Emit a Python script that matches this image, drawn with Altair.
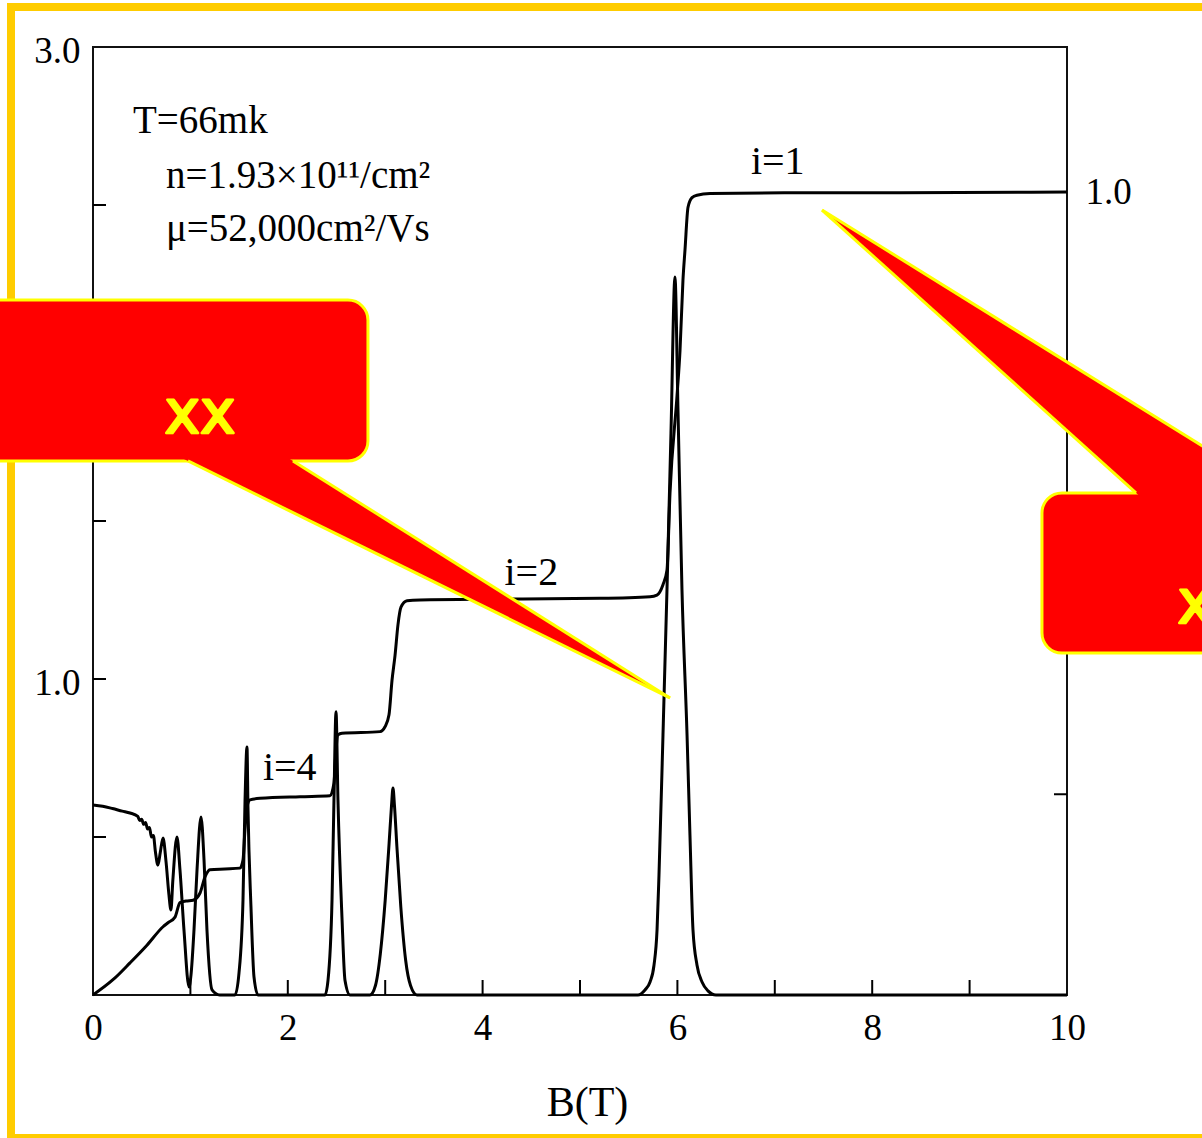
import altair as alt
import pandas as pd

# ---------------- data ----------------
# longitudinal resistance (left scale)
B_xx = [0.00, 0.10, 0.20, 0.30, 0.38, 0.46, 0.48, 0.50, 0.52, 0.54, 0.56, 0.58, 0.60, 0.62, 0.64,
        0.667, 0.69, 0.719, 0.75, 0.78, 0.80, 0.82, 0.862, 0.893, 0.934, 0.986, 1.006, 1.037, 1.068,
        1.109, 1.14, 1.17, 1.222,
        1.30, 1.458, 1.499, 1.540, 1.561, 1.581, 1.591, 1.622, 1.653, 1.694, 1.77,
        2.33, 2.382, 2.413, 2.454, 2.474, 2.495, 2.515, 2.556, 2.587, 2.639, 2.70,
        2.844, 2.90, 2.95, 3.00, 3.04, 3.065, 3.080, 3.095, 3.12, 3.16, 3.21, 3.26, 3.326,
        5.595, 5.667, 5.719, 5.760, 5.791, 5.811, 5.852, 5.893, 5.934, 5.975, 6.006, 6.047, 6.099,
        6.129, 6.160, 6.201, 6.253, 6.314, 6.396, 10.0]
R_xx = [0.601, 0.597, 0.590, 0.582, 0.576, 0.565, 0.552, 0.556, 0.540, 0.546, 0.525, 0.530, 0.500,
        0.505, 0.455, 0.411, 0.450, 0.497, 0.421, 0.316, 0.269, 0.364, 0.500, 0.396, 0.206, 0.025,
        0.063, 0.206, 0.396, 0.563, 0.427, 0.206, 0.016,
        0.0, 0.0, 0.070, 0.301, 0.617, 0.785, 0.595, 0.278, 0.057, 0.0, 0.0,
        0.0, 0.0, 0.047, 0.301, 0.617, 0.896, 0.617, 0.247, 0.047, 0.0, 0.0,
        0.0, 0.03, 0.13, 0.30, 0.48, 0.60, 0.655, 0.60, 0.47, 0.28, 0.11, 0.03, 0.0,
        0.0, 0.016, 0.041, 0.095, 0.206, 0.380, 0.823, 1.282, 1.778, 2.272, 1.851, 1.282, 0.823,
        0.506, 0.206, 0.095, 0.041, 0.013, 0.0, 0.0]

# Hall resistance (right scale, h/e^2 units)
B_xy = [0.0, 0.205, 0.38, 0.554, 0.719, 0.77, 0.842, 0.893, 0.955, 1.027, 1.099, 1.15, 1.20, 1.355,
        1.509, 1.54, 1.56, 1.581, 1.612, 1.715, 2.125, 2.433, 2.474, 2.495, 2.515, 2.556, 2.947,
        2.998, 3.039, 3.07, 3.101, 3.131, 3.162, 3.224, 3.357, 4.179, 5.205, 5.719, 5.79, 5.852,
        5.893, 5.924, 5.996, 6.027, 6.057, 6.078, 6.109, 6.15, 6.201, 6.335, 7.259, 8.285, 10.0]
R_xy = [0.0, 0.019, 0.040, 0.062, 0.085, 0.090, 0.097, 0.115, 0.117, 0.118, 0.127, 0.147, 0.156,
        0.157, 0.158, 0.168, 0.205, 0.234, 0.243, 0.245, 0.247, 0.248, 0.264, 0.305, 0.324, 0.326,
        0.328, 0.334, 0.349, 0.392, 0.423, 0.461, 0.483, 0.491, 0.492, 0.493, 0.494, 0.496, 0.498,
        0.511, 0.529, 0.625, 0.746, 0.803, 0.890, 0.928, 0.981, 0.993, 0.996, 0.998, 0.999, 0.999,
        1.0]

x_tick_values = list(range(0, 11))
left_tick_values = [0.5, 1.0, 1.5, 2.0, 2.5]
left_label_values = [1.0, 3.0]
right_tick_values = [0.25, 0.5, 0.75, 1.0]
right_label_values = [1.0]

info_text = ["T=66mk", "n=1.93×10¹¹/cm²", "μ=52,000cm²/Vs"]
info_B = [0.411, 0.749, 0.749]
info_R = [2.728, 2.554, 2.386]

plateau_text = ["i=1", "i=2", "i=4"]
plateau_B = [7.03, 4.50, 2.02]
plateau_R = [2.598, 1.297, 0.680]

callout_text = ["xx", "xx"]
callout_text_B = [1.099, 11.50]
callout_text_R = [1.778, 1.177]

# ---------------- layout ----------------
W, H = 974, 948
SERIF = "Liberation Serif"

xs = alt.Scale(domain=[0, 10], nice=False, zero=False)
ys_left = alt.Scale(domain=[0, 3], nice=False, zero=False)
ys_right = alt.Scale(domain=[0, 1.1806], nice=False, zero=False)

x_axis = alt.Axis(values=x_tick_values, format="d",
                  labelExpr="datum.value % 2 == 0 ? datum.label : ''",
                  ticks=False, domain=False, grid=False, labelPadding=15,
                  titlePadding=36, titleX=494, labelFlush=False)
yl_axis = alt.Axis(values=left_label_values, format=".1f", ticks=False, domain=False,
                   grid=False, labelPadding=13, labelOffset=4, orient="left")
yr_axis = alt.Axis(values=right_label_values, format=".1f", ticks=False, domain=False,
                   grid=False, labelPadding=18, orient="right")


def X(field):
    return alt.X(field, scale=xs, title="B(T)", axis=x_axis)


def YL(field):
    return alt.Y(field, scale=ys_left, title="", axis=yl_axis)


def YR(field):
    return alt.Y(field, scale=ys_right, title="", axis=yr_axis)


def YC(field):
    return alt.Y(field, scale=ys_left, axis=None)


one = pd.DataFrame({"a": [0]})

frame = alt.Chart(one).mark_rect(fillOpacity=0, stroke="#FFCC00", strokeWidth=8).encode(
    x=alt.value(-82), x2=alt.value(1130), y=alt.value(-40), y2=alt.value(1091)
)

df_xx = pd.DataFrame({"B": B_xx, "R": R_xx})
rxx = alt.Chart(df_xx).mark_line(color="black", strokeWidth=3, interpolate="monotone").encode(
    x=X("B:Q"), y=YL("R:Q"))

lticks = alt.Chart(pd.DataFrame({"v": left_tick_values})).mark_rule(color="black", strokeWidth=2).encode(
    x=alt.value(0), x2=alt.value(13), y=YL("v:Q"))
bticks = alt.Chart(pd.DataFrame({"b": x_tick_values[1:-1]})).mark_rule(color="black", strokeWidth=2).encode(
    x=X("b:Q"), y=alt.value(H - 15), y2=alt.value(H))
info = alt.Chart(pd.DataFrame({"B": info_B, "R": info_R, "t": info_text})).mark_text(
    align="left", baseline="alphabetic", font=SERIF, fontSize=39, color="black"
).encode(x=X("B:Q"), y=YL("R:Q"), text="t:N")
plat = alt.Chart(pd.DataFrame({"B": plateau_B, "R": plateau_R, "t": plateau_text})).mark_text(
    align="center", baseline="alphabetic", font=SERIF, fontSize=40, color="black"
).encode(x=X("B:Q"), y=YL("R:Q"), text="t:N")

groupA = alt.layer(frame, rxx, lticks, bticks, info, plat)

df_xy = pd.DataFrame({"B": B_xy, "R": R_xy})
rxy = alt.Chart(df_xy).mark_line(color="black", strokeWidth=3, interpolate="monotone").encode(
    x=X("B:Q"), y=YR("R:Q"))
rticks = alt.Chart(pd.DataFrame({"v": right_tick_values})).mark_rule(color="black", strokeWidth=2).encode(
    x=alt.value(W - 13), x2=alt.value(W), y=YR("v:Q"))
groupB = alt.layer(rxy, rticks)

# ---------------- callouts (annotation geometry in data units) ----------------
rects = pd.DataFrame({"x0": [-1.40, 9.743], "x1": [2.823, 12.6], "y0": [1.690, 1.082], "y1": [2.199, 1.589]})
tips = [(5.924, 0.940), (7.485, 2.484)]
bases = [((0.975, 1.690), (2.053, 1.690)), ((10.708, 1.589), (12.166, 1.589))]
insets = [0.03, -0.03]


def extend(tip, p, vnew):
    t = (vnew - tip[1]) / (p[1] - tip[1])
    return (tip[0] + (p[0] - tip[0]) * t, vnew)


def tri_rows(pts, wid):
    pts = sorted(pts)
    (xa, ya), (xb, yb), (xc, yc) = pts
    ym = ya + (yc - ya) * (xb - xa) / (xc - xa)
    return [dict(id=wid, x=xa, y=ya, y2=ya), dict(id=wid, x=xb, y=yb, y2=ym),
            dict(id=wid, x=xc, y=yc, y2=yc)]


rows, edges = [], []
for i, (tip, (p1, p2), d) in enumerate(zip(tips, bases, insets)):
    vnew = p1[1] + d
    rows += tri_rows([tip, extend(tip, p1, vnew), extend(tip, p2, vnew)], i)
    edges.append(dict(x=tip[0], y=tip[1], x2=p1[0], y2=p1[1]))
    edges.append(dict(x=tip[0], y=tip[1], x2=p2[0], y2=p2[1]))
wedges = pd.DataFrame(rows)
edge_df = pd.DataFrame(edges)

crect = alt.Chart(rects).mark_rect(cornerRadius=20, fill="#FF0000", stroke="#FFFF00", strokeWidth=3, clip=False).encode(
    x=X("x0:Q"), x2="x1:Q", y=YC("y0:Q"), y2="y1:Q")
cwedge = alt.Chart(wedges).mark_area(color="#FF0000", clip=False).encode(
    x=X("x:Q"), y=YC("y:Q"), y2="y2:Q", detail="id:N")
cedge = alt.Chart(edge_df).mark_rule(color="#FFFF00", strokeWidth=3, clip=False).encode(
    x=X("x:Q"), x2="x2:Q", y=YC("y:Q"), y2="y2:Q")
ctext = alt.Chart(pd.DataFrame({"B": callout_text_B, "R": callout_text_R, "t": callout_text})).mark_text(
    align="center", baseline="alphabetic", font="DejaVu Sans", fontSize=60, color="#FFFF00",
    stroke="#FFFF00", strokeWidth=2.5, strokeJoin="round", clip=False
).encode(x=X("B:Q"), y=YC("R:Q"), text="t:N")

groupC = alt.layer(crect, cwedge, cedge, ctext)

chart = alt.layer(groupA, groupB, groupC).resolve_scale(y="independent").properties(
    width=W, height=H,
    padding={"left": 93, "top": 47, "right": 135, "bottom": 143},
    autosize=alt.AutoSizeParams(type="none"),
    background="white",
).configure_view(stroke="#111111", strokeWidth=2).configure_axis(
    labelFont=SERIF, labelFontSize=37, labelColor="black",
    titleFont=SERIF, titleFontSize=42, titleFontWeight="normal", titleColor="black",
)

chart.save("out.html", embed_options={"renderer": "svg", "actions": False})
